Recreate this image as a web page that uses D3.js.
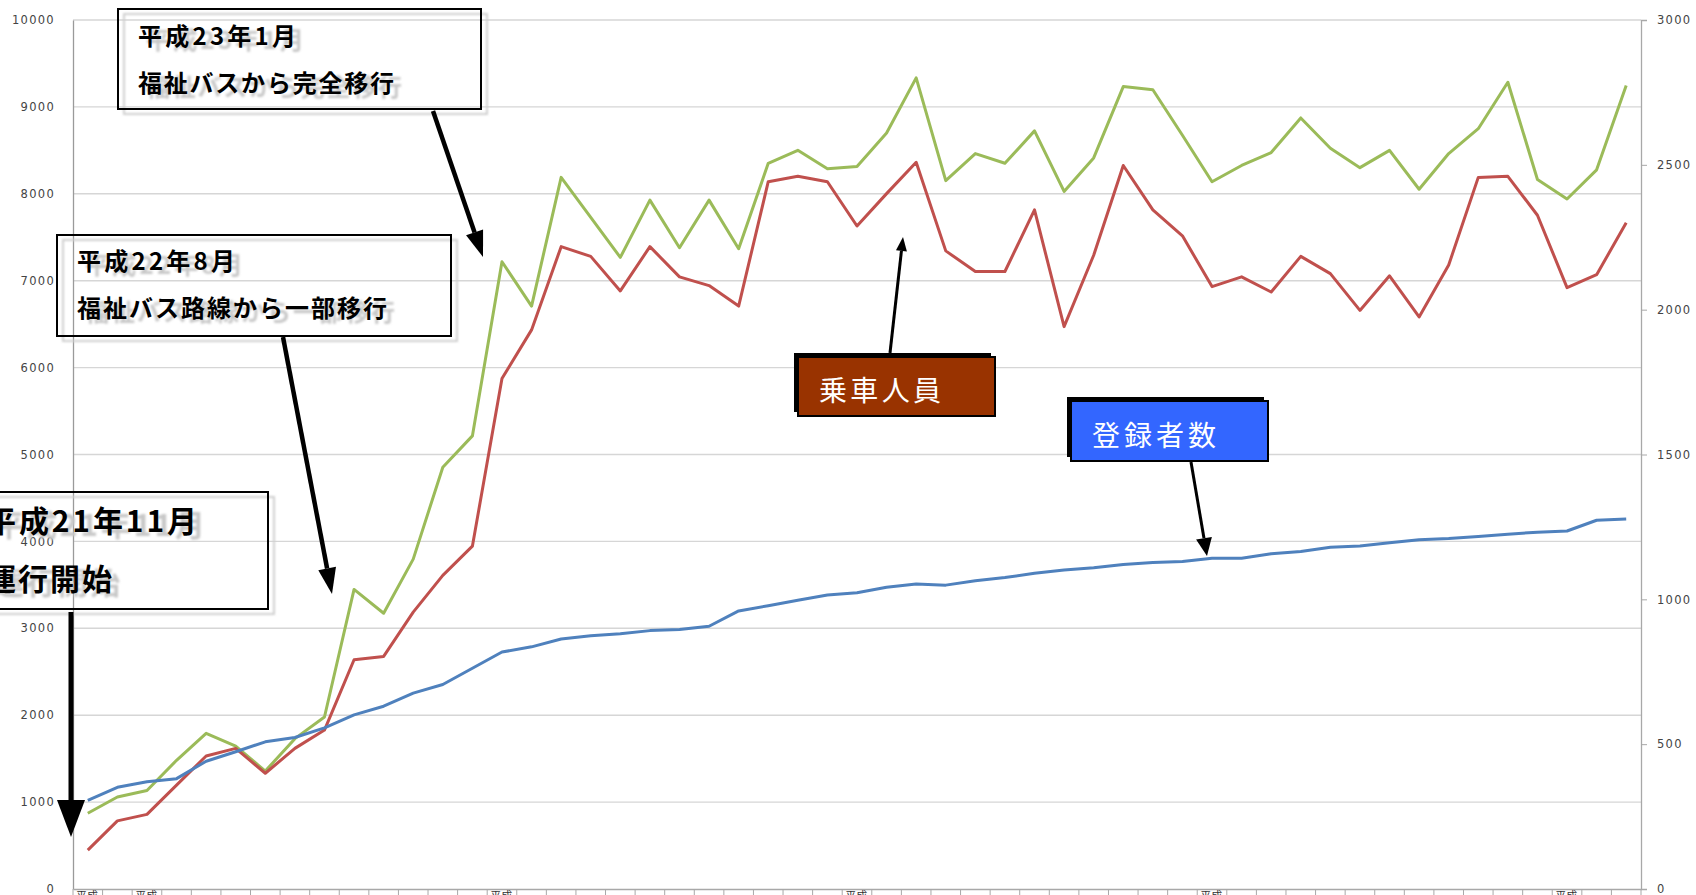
<!DOCTYPE html>
<html><head><meta charset="utf-8">
<script src="https://cdn.jsdelivr.net/npm/d3@7"></script>
<style>
body{margin:0;background:#fff;overflow:hidden}
svg{display:block}
</style>
</head><body>
<svg id="c" width="1696" height="895"></svg>
<script>
// ---- data ----
const categories = [
  "平成21年11月","12月",
  "平成22年1月","2月","3月","4月","5月","6月","7月","8月","9月","10月","11月","12月",
  "平成23年1月","2月","3月","4月","5月","6月","7月","8月","9月","10月","11月","12月",
  "平成24年1月","2月","3月","4月","5月","6月","7月","8月","9月","10月","11月","12月",
  "平成25年1月","2月","3月","4月","5月","6月","7月","8月","9月","10月","11月","12月",
  "平成26年1月","2月","3月"
];
// green line (left axis)
const ridersTotal = [871,1058,1133,1481,1792,1643,1357,1730,1979,3447,3173,3796,4854,5214,
  7218,6708,8189,7728,7268,7927,7380,7927,7368,8351,8500,8288,8313,8699,9334,8152,8463,8351,
  8724,8027,8413,9234,9197,8674,8139,8326,8475,8873,8525,8301,8500,8052,8463,8749,9284,8165,
  7940,8276,9247];
// red line (left axis) – 乗車人員
const riders = [448,784,859,1195,1531,1618,1332,1618,1829,2638,2676,3186,3609,3945,
  5874,6434,7392,7280,6882,7392,7044,6944,6708,8139,8201,8139,7629,8002,8363,7343,7106,7106,
  7815,6471,7293,8326,7815,7517,6932,7044,6870,7280,7081,6658,7056,6583,7181,8189,8201,7753,
  6920,7069,7666];
// blue line (right axis) – 登録者数
const members = [306,351,370,381,441,474,508,523,556,601,631,676,706,762,
  818,836,863,874,881,892,896,907,960,978,997,1015,1023,1042,1053,1049,1064,1075,
  1090,1101,1109,1120,1127,1131,1142,1142,1157,1165,1180,1184,1195,1206,1210,1217,1225,1232,
  1236,1273,1277];
const leftTicks = [0,1000,2000,3000,4000,5000,6000,7000,8000,9000,10000];
const rightTicks = [0,500,1000,1500,2000,2500,3000];

const notes = [
  {lines:["平成23年1月","福祉バスから完全移行"]},
  {lines:["平成22年8月","福祉バス路線から一部移行"]},
  {lines:["平成21年11月","運行開始"]}
];
const labels = ["乗車人員","登録者数"];

// ---- layout ----
const L = 73, R = 1641, T = 20, B = 889;
const svg = d3.select("#c");
const defs = svg.append("defs");
defs.append("filter").attr("id","blur").attr("x","-10%").attr("y","-30%").attr("width","120%").attr("height","160%")
  .append("feGaussianBlur").attr("stdDeviation",1.3);

const x = d3.scaleBand().domain(d3.range(categories.length)).range([L,R]);
const yL = d3.scaleLinear().domain([0,10000]).range([B,T]);
const yR = d3.scaleLinear().domain([0,3000]).range([B,T]);
const cx = i => x(i) + x.bandwidth()/2;

// gridlines
svg.append("g").selectAll("line").data(leftTicks.filter(d=>d>0)).join("line")
  .attr("x1",L).attr("x2",R).attr("y1",d=>yL(d)).attr("y2",d=>yL(d))
  .attr("stroke","#d6d6d6").attr("stroke-width",1.4);

// left axis
const ax = svg.append("g").attr("transform",`translate(${L},0)`)
  .call(d3.axisLeft(yL).tickValues(leftTicks).tickSize(0).tickPadding(18).tickFormat(d3.format("d")));
ax.select(".domain").attr("stroke","#9a9a9a").attr("stroke-width",1.3);
ax.selectAll("text").attr("font-family","DejaVu Sans").attr("font-size",11.5)
  .attr("letter-spacing",1.3).attr("fill","#444");

// right axis
const ar = svg.append("g").attr("transform",`translate(${R},0)`)
  .call(d3.axisRight(yR).tickValues(rightTicks).tickSize(6).tickPadding(10).tickFormat(d3.format("d")));
ar.select(".domain").attr("stroke","#a8a8a8").attr("stroke-width",1.3);
ar.selectAll("line").attr("stroke","#a8a8a8");
ar.selectAll("text").attr("font-family","DejaVu Sans").attr("font-size",11.5)
  .attr("letter-spacing",1.3).attr("fill","#444");

// bottom axis
const axB = svg.append("g").attr("transform",`translate(0,${B})`)
  .call(d3.axisBottom(x).tickSize(0).tickFormat(""));
axB.select(".domain").attr("stroke","#a8a8a8").attr("stroke-width",1.5);
svg.append("g").selectAll("line").data(d3.range(categories.length+1)).join("line")
  .attr("x1",i=> i<categories.length ? x(i) : R).attr("x2",i=> i<categories.length ? x(i) : R)
  .attr("y1",B).attr("y2",B+7).attr("stroke","#a8a8a8").attr("stroke-width",1);
const xl = svg.append("g").selectAll("text").data(categories).join("text")
  .attr("font-family","Noto Sans CJK JP").attr("font-size",11).attr("fill","#333")
  .attr("x",(d,i)=>x(i)+3).attr("y",900);
xl.each(function(d){
  const m = d.match(/^(平成)(\d+年)(.*)$/);
  const parts = m ? [m[1],m[2],m[3]] : ["","",d];
  d3.select(this).selectAll("tspan").data(parts).join("tspan")
    .attr("x",d3.select(this).attr("x")).attr("dy",(p,j)=>j===0?0:13).text(p=>p);
});

// lines
const lineL = d3.line().x((d,i)=>cx(i)).y(d=>yL(d));
const lineR = d3.line().x((d,i)=>cx(i)).y(d=>yR(d));
svg.append("path").datum(ridersTotal).attr("d",lineL).attr("fill","none")
  .attr("stroke","#9BBB59").attr("stroke-width",3).attr("stroke-linejoin","round");
svg.append("path").datum(riders).attr("d",lineL).attr("fill","none")
  .attr("stroke","#C0504D").attr("stroke-width",3).attr("stroke-linejoin","round");
svg.append("path").datum(members).attr("d",lineR).attr("fill","none")
  .attr("stroke","#4F81BD").attr("stroke-width",3).attr("stroke-linejoin","round");

// ---- annotations ----
function arrow(x1,y1,x2,y2,w,hl,hw){
  const a = Math.atan2(y2-y1,x2-x1);
  const bx = x2 - hl*Math.cos(a), by = y2 - hl*Math.sin(a);
  const g = svg.append("g");
  g.append("line").attr("x1",x1).attr("y1",y1).attr("x2",bx).attr("y2",by)
    .attr("stroke","#000").attr("stroke-width",w);
  const px = -Math.sin(a)*hw/2, py = Math.cos(a)*hw/2;
  g.append("path").attr("d",`M${x2},${y2}L${bx+px},${by+py}L${bx-px},${by-py}Z`).attr("fill","#000");
}

function noteBox(n, box, fs, textX, base, lens){
  const g = svg.append("g");
  g.append("rect").attr("x",box[0]+6).attr("y",box[1]+5).attr("width",box[2]).attr("height",box[3])
    .attr("fill","none").attr("stroke","#cfcfcf").attr("stroke-width",2).attr("filter","url(#blur)");
  n.lines.forEach((t,j)=>{
    g.append("text").attr("x",textX+8).attr("y",base[j]+4).attr("font-family","Noto Sans CJK JP")
      .attr("font-weight",700).attr("font-size",fs).attr("fill","#c8c8c8").attr("filter","url(#blur)")
      .attr("textLength",lens[j]).attr("lengthAdjust","spacing").text(t);
  });
  g.append("rect").attr("x",box[0]).attr("y",box[1]).attr("width",box[2]).attr("height",box[3])
    .attr("fill","none").attr("stroke","#000").attr("stroke-width",2);
  n.lines.forEach((t,j)=>{
    g.append("text").attr("x",textX).attr("y",base[j]).attr("font-family","Noto Sans CJK JP")
      .attr("font-weight",700).attr("font-size",fs).attr("fill","#000")
      .attr("textLength",lens[j]).attr("lengthAdjust","spacing").text(t);
  });
}

noteBox(notes[0],[118,9,363,100],24,138,[45,92],[158,256]);
noteBox(notes[1],[57,235,394,101],24,77,[270,317],[158,310]);
noteBox(notes[2],[-30,492,298,117],30,-14,[532,590],[211,126]);

arrow(433,111,483,257,4.5,26,18);
arrow(283,337,332,594,4.5,26,18);
arrow(71,612,71,837,5,37,28);
arrow(890,353,903,237,3,14,11);
arrow(1191,462,1207,556,3,18,16);

function labelBox(t, box, color, tx, base, len){
  const g = svg.append("g");
  g.append("rect").attr("x",box[0]-4).attr("y",box[1]-4).attr("width",box[2]).attr("height",box[3]).attr("fill","#000");
  g.append("rect").attr("x",box[0]).attr("y",box[1]).attr("width",box[2]).attr("height",box[3])
    .attr("fill",color).attr("stroke","#000").attr("stroke-width",2);
  g.append("text").attr("x",tx).attr("y",base).attr("font-family","Noto Sans CJK JP")
    .attr("font-size",28).attr("fill","#fff").attr("textLength",len).attr("lengthAdjust","spacing").text(t);
}
labelBox(labels[0],[798,357,197,59],"#993300",819,401,122);
labelBox(labels[1],[1071,401,197,60],"#3366FF",1092,446,124);
</script>
</body></html>
